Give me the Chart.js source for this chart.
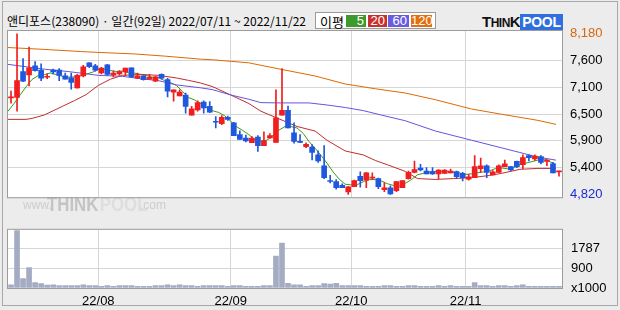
<!DOCTYPE html>
<html>
<head>
<meta charset="utf-8">
<script src="https://cdn.jsdelivr.net/npm/chart.js@4.4.0/dist/chart.umd.min.js"></script>
<style>
  html, body { margin: 0; padding: 0; background: #ececec; }
  #wrap { position: relative; width: 620px; height: 310px; overflow: hidden; background: #ececec; }
  #frame { position: absolute; left: 2px; top: 1px; width: 616px; height: 305px; border: 1px solid #a8a8a8; box-sizing: border-box; }
  #title { position: absolute; left: 7px; top: 12px; font: 12px "Noto Sans CJK KR", sans-serif; color: #000; white-space: nowrap; }
  #legend { position: absolute; left: 315px; top: 12px; width: 121px; height: 17px; box-sizing: border-box;
            border: 1px solid #9a9a9a; background: #fff; }
  #legend .lbl { position: absolute; left: 4px; top: -1px; font: 13px "Noto Sans CJK KR", sans-serif; color: #000; }
  #legend .box { position: absolute; top: 2px; height: 12px; color: #fff; text-align: right; padding-right: 2px;
                 box-sizing: border-box; font: 13px "Liberation Sans", sans-serif; line-height: 12px; }
  #logo { position: absolute; left: 482px; top: 13px; height: 14px; white-space: nowrap; font-family: "Liberation Sans", sans-serif; font-weight: bold; }
  #logo .think { color: #111; letter-spacing: -0.5px; }
  #logo .pool { background: #2f6fde; color: #fff; padding: 0 2px; font-size: 14px; letter-spacing: -0.3px; }
  canvas { position: absolute; left: 0; }
  #priceChart { top: 0; }
  #volChart { top: 213px; }
</style>
</head>
<body>
<div id="wrap">
  <div id="frame"></div>
  <div id="title">앤디포스(238090) · 일간(92일) 2022/07/11 ~ 2022/11/22</div>
  <div id="legend">
    <span class="lbl">이평</span>
    <span class="box" style="left:30px;width:20px;background:#3f9a2b">5</span>
    <span class="box" style="left:52px;width:19px;background:#c8302e">20</span>
    <span class="box" style="left:72px;width:21px;background:#6a5ce0">60</span>
    <span class="box" style="left:95px;width:21px;background:#e07010">120</span>
  </div>
  <div id="logo"><span class="think"><span style="font-size:15px">T</span><span style="font-size:12px">HIN</span><span style="font-size:15px">K</span></span><span class="pool">POOL</span></div>
  <canvas id="priceChart" width="620" height="213"></canvas>
  <canvas id="volChart" width="620" height="97"></canvas>
</div>
<script>
// trading days 2022/07/11 ~ 2022/11/22
var days = [
  '07/11','07/12','07/13','07/14','07/15','07/18','07/19','07/20','07/21','07/22',
  '07/25','07/26','07/27','07/28','07/29','08/01','08/02','08/03','08/04','08/05',
  '08/08','08/09','08/10','08/11','08/12','08/16','08/17','08/18','08/19','08/22',
  '08/23','08/24','08/25','08/26','08/29','08/30','08/31','09/01','09/02','09/05',
  '09/06','09/07','09/08','09/13','09/14','09/15','09/16','09/19','09/20','09/21',
  '09/22','09/23','09/26','09/27','09/28','09/29','09/30','10/04','10/05','10/06',
  '10/07','10/11','10/12','10/13','10/14','10/17','10/18','10/19','10/20','10/21',
  '10/24','10/25','10/26','10/27','10/28','10/31','11/01','11/02','11/03','11/04',
  '11/07','11/08','11/09','11/10','11/11','11/14','11/15','11/16','11/17','11/18',
  '11/21','11/22'
];

var openP = [
  6840, 6850, 7390, 7320, 7510, 7420, 7270, 7420, 7420, 7300,
  7260, 7050, 7300, 7570, 7510, 7360, 7530, 7320, 7340, 7380,
  7470, 7250, 7300, 7230, 7190, 7330, 7220, 6960, 6880, 6900,
  6480, 6590, 6750, 6660, 6350, 6300, 6430, 6320, 6070, 6000,
  5900, 6020, 5840, 6000, 5910, 6480, 6580, 6110, 5920, 5820,
  5810, 5650, 5420, 5100, 5090, 5010, 4870, 4980, 5200, 5120,
  5160, 5150, 4920, 4960, 4900, 4960, 5150, 5280, 5370, 5310,
  5300, 5250, 5260, 5270, 5300, 5260, 5140, 5170, 5360, 5420,
  5230, 5280, 5400, 5400, 5510, 5440, 5630, 5560, 5610, 5510,
  5460, 5290
];
var highP = [
  6980, 8180, 7660, 7900, 7600, 7550, 7340, 7440, 7450, 7360,
  7360, 7330, 7520, 7580, 7540, 7480, 7540, 7400, 7410, 7460,
  7470, 7360, 7300, 7330, 7290, 7340, 7250, 7010, 7010, 6940,
  6660, 6780, 6780, 6760, 6450, 6470, 6460, 6330, 6150, 6060,
  6030, 6050, 6130, 6090, 7010, 7450, 6670, 6320, 6070, 5900,
  5860, 5730, 5840, 5220, 5130, 5040, 4990, 5120, 5290, 5280,
  5270, 5160, 5060, 5000, 5090, 5110, 5310, 5520, 5450, 5380,
  5380, 5340, 5340, 5350, 5310, 5280, 5240, 5630, 5580, 5440,
  5320, 5440, 5540, 5410, 5520, 5650, 5650, 5650, 5630, 5550,
  5490, 5310
];
var lowP = [
  6730, 6560, 7180, 7090, 7400, 7200, 7240, 7340, 7200, 7230,
  7020, 7040, 7280, 7470, 7400, 7340, 7310, 7280, 7310, 7310,
  7260, 7240, 7210, 7230, 7180, 7230, 6860, 6770, 6880, 6520,
  6480, 6560, 6520, 6530, 6210, 6280, 6370, 6050, 5970, 5920,
  5900, 5720, 5840, 5990, 5910, 6480, 6210, 5890, 5900, 5800,
  5540, 5490, 5150, 5060, 4930, 4960, 4820, 4980, 4970, 4960,
  5130, 4940, 4880, 4820, 4880, 4960, 5140, 5270, 5310, 5250,
  5240, 5150, 5260, 5270, 5150, 5100, 5120, 5170, 5280, 5170,
  5230, 5280, 5400, 5310, 5380, 5360, 5520, 5530, 5460, 5420,
  5270, 5200
];
var closeP = [
  6860, 7200, 7190, 7470, 7410, 7250, 7290, 7380, 7310, 7230,
  7160, 7310, 7490, 7490, 7420, 7460, 7330, 7360, 7390, 7460,
  7280, 7300, 7220, 7270, 7280, 7250, 6980, 7010, 6960, 6660,
  6610, 6740, 6630, 6540, 6330, 6430, 6390, 6050, 5970, 5940,
  6000, 5840, 5940, 6050, 6420, 6580, 6210, 5930, 5910, 5870,
  5700, 5520, 5170, 5090, 4960, 4960, 4980, 5110, 5110, 5270,
  5180, 4980, 4960, 4830, 5090, 5110, 5280, 5340, 5330, 5250,
  5250, 5330, 5330, 5310, 5190, 5170, 5190, 5400, 5420, 5280,
  5290, 5420, 5460, 5330, 5400, 5590, 5590, 5620, 5490, 5540,
  5270, 5300
];
// volume, x1000 shares
var volume = [
  140, 2593, 430, 920, 245, 200, 130, 140, 105, 105,
  105, 105, 140, 105, 105, 70, 105, 80, 105, 105,
  105, 70, 70, 70, 105, 105, 140, 105, 140, 105,
  105, 70, 105, 105, 105, 105, 70, 105, 105, 70,
  70, 70, 105, 105, 1437, 2032, 210, 140, 140, 70,
  105, 105, 200, 175, 210, 105, 105, 105, 105, 70,
  70, 70, 105, 105, 70, 70, 105, 105, 70, 70,
  70, 105, 70, 105, 70, 70, 70, 245, 105, 105,
  70, 105, 105, 70, 105, 140, 70, 70, 70, 70,
  70, 70
];

// moving averages
var ma5 = [
  6560, 6720, 6900, 7070, 7226, 7304, 7322, 7360, 7328, 7292,
  7274, 7278, 7300, 7336, 7374, 7434, 7438, 7412, 7392, 7400,
  7364, 7358, 7330, 7306, 7270, 7264, 7200, 7158, 7096, 6972,
  6844, 6796, 6720, 6636, 6570, 6534, 6464, 6348, 6234, 6156,
  6070, 5960, 5938, 5954, 6050, 6166, 6240, 6238, 6210, 6100,
  5924, 5786, 5634, 5470, 5288, 5140, 5032, 5020, 5024, 5086,
  5130, 5130, 5100, 5044, 5008, 4994, 5054, 5130, 5230, 5262,
  5290, 5300, 5298, 5294, 5282, 5266, 5238, 5252, 5274, 5292,
  5316, 5362, 5374, 5356, 5380, 5440, 5474, 5506, 5538, 5566,
  5502, 5444
];
var ma20Idx = [0, 3, 4, 6, 9, 11, 13, 15, 17, 19, 22, 25, 28, 30, 32, 34, 37, 40, 42, 45,
               48, 51, 53, 56, 59, 61, 63, 66, 68, 71, 74, 77, 80, 82, 85, 88, 91];
var ma20Val = [6390, 6390, 6410, 6480, 6660, 6780, 6910, 7100, 7230, 7310, 7330, 7310, 7255, 7205, 7150, 7073, 6899, 6721, 6560, 6401,
               6241, 6145, 5950, 5729, 5646, 5530, 5441, 5300, 5152, 5133, 5152, 5171, 5217, 5262, 5345, 5364, 5364];
var ma60Idx = [0, 3, 6, 10, 15, 19, 22, 25, 28, 32, 34, 37, 40, 42, 45, 50, 53, 56, 59, 62, 66, 71, 77, 82, 85, 88, 91];
var ma60Val = [7540, 7490, 7440, 7390, 7310, 7290, 7240, 7200, 7110, 7050, 7010, 6900, 6810, 6740, 6734, 6734, 6690, 6638, 6573, 6480,
               6360, 6145, 5953, 5793, 5697, 5601, 5537];
var ma120Idx = [0, 5, 12, 15, 21, 26, 32, 34, 40, 45, 51, 56, 61, 66, 71, 77, 82, 88, 91];
var ma120Val = [7892, 7860, 7809, 7790, 7758, 7713, 7649, 7636, 7572, 7445, 7297, 7130, 7030, 6940, 6800, 6606, 6496, 6369, 6285];

var priceTicks = [8180, 7620, 7060, 6500, 5940, 5380, 4820];
var priceTickLabels = ['8,180', '7,600', '7,100', '6,500', '5,900', '5,400', '4,820'];
var volTicks = [1787, 893.5, 0];
var volTickLabels = ['1787', '900', 'x1000'];

var RED = '#f01e1e', BLUE = '#1f58de';
var GRID = '#d6d6d6';
var candleColors = closeP.map(function (c, i) { return c >= openP[i] ? RED : BLUE; });

var monthStarts = [];
days.forEach(function (d, i) {
  if (i > 0 && d.slice(0, 2) !== days[i - 1].slice(0, 2)) monthStarts.push(i);
});

var tickFont = { family: 'Liberation Sans', size: 13 };

// white plot area + grey frame
var panel = {
  id: 'panel',
  beforeDraw: function (c) {
    var a = c.chartArea, ctx = c.ctx;
    ctx.save();
    ctx.fillStyle = '#fff';
    ctx.fillRect(a.left, a.top, a.right - a.left, a.bottom - a.top);
    ctx.restore();
  },
  afterDraw: function (c) {
    var a = c.chartArea, ctx = c.ctx;
    ctx.save();
    ctx.strokeStyle = '#9c9c9c';
    ctx.lineWidth = 1;
    ctx.strokeRect(a.left - 0.5, a.top - 0.5, a.right - a.left + 1, a.bottom - a.top + 1);
    ctx.restore();
  }
};

var watermark = {
  id: 'watermark',
  beforeDatasetsDraw: function (c) {
    var ctx = c.ctx;
    ctx.save();
    ctx.fillStyle = '#cdcdcd';
    ctx.font = '12px "Liberation Sans"';
    ctx.fillText('www.', 23, 209);
    ctx.save();
    ctx.translate(47, 211);
    ctx.scale(0.8, 1);
    ctx.font = 'bold 21px "Liberation Sans"';
    ctx.fillStyle = '#c4c4c4';
    ctx.fillText('THINK', 0, 0);
    ctx.fillStyle = '#dedede';
    ctx.fillText('POOL', 66, 0);
    ctx.restore();
    ctx.fillStyle = '#cdcdcd';
    ctx.font = '12px "Liberation Sans"';
    ctx.fillText('.com', 140, 209);
    ctx.restore();
  }
};

function xAxis(showLabels) {
  return {
    type: 'linear', min: 0, max: days.length, offset: false,
    afterBuildTicks: function (s) { s.ticks = monthStarts.map(function (v) { return { value: v }; }); },
    afterFit: function (s) { s.height = showLabels ? 22 : 0; },
    grid: { color: GRID, drawTicks: false, offset: false },
    border: { display: false },
    ticks: {
      display: showLabels, autoSkip: false, maxRotation: 0, padding: 6, color: '#000', font: tickFont,
      callback: function (v) { return '22/' + days[v].slice(0, 2); }
    }
  };
}

function maLine(idx, val, color) {
  return {
    type: 'line', order: 2,
    data: idx.map(function (x, k) { return { x: x, y: val[k] }; }),
    borderColor: color, borderWidth: 1, pointRadius: 0, tension: 0
  };
}

new Chart(document.getElementById('priceChart'), {
  type: 'bar',
  data: {
    datasets: [
      maLine(ma120Idx, ma120Val, '#dd6a00'),
      maLine(ma60Idx, ma60Val, '#6654dc'),
      maLine(ma20Idx, ma20Val, '#c42c2c'),
      maLine(days.map(function (d, i) { return i; }), ma5, '#3c9a14'),
      {
        type: 'bar', order: 1, grouped: false, barThickness: 1,
        data: days.map(function (d, i) { return { x: i + 0.5, y: [lowP[i], highP[i]] }; }),
        backgroundColor: candleColors
      },
      {
        type: 'bar', order: 0, grouped: false, barThickness: 5, minBarLength: 1,
        data: days.map(function (d, i) { return { x: i + 0.5, y: [openP[i], closeP[i]] }; }),
        backgroundColor: candleColors
      }
    ]
  },
  options: {
    responsive: false, animation: false, events: [],
    layout: { padding: { top: 31, left: 8, right: 0, bottom: 1 } },
    plugins: { legend: { display: false }, tooltip: { enabled: false } },
    scales: {
      x: xAxis(false),
      y: {
        position: 'right', min: 4762, max: 8238,
        afterBuildTicks: function (s) { s.ticks = priceTicks.map(function (v) { return { value: v }; }); },
        afterFit: function (s) { s.width = 58; },
        grid: {
          drawTicks: false,
          color: function (c) { return (c.index === 0 || c.index === priceTicks.length - 1) ? 'rgba(0,0,0,0)' : GRID; }
        },
        border: { display: false },
        ticks: {
          padding: 8, font: tickFont,
          color: function (c) { return c.index === 0 ? '#d9660a' : (c.index === priceTicks.length - 1 ? '#1a2bd0' : '#000'); },
          callback: function (v, i) { return priceTickLabels[i]; }
        }
      }
    }
  },
  plugins: [panel, watermark]
});

new Chart(document.getElementById('volChart'), {
  type: 'bar',
  data: {
    datasets: [{
      grouped: false, barThickness: 5,
      data: days.map(function (d, i) { return { x: i + 0.5, y: volume[i] }; }),
      backgroundColor: '#a3acc3'
    }]
  },
  options: {
    responsive: false, animation: false, events: [],
    layout: { padding: { top: 0, left: 8, right: 0, bottom: 0 } },
    plugins: { legend: { display: false }, tooltip: { enabled: false } },
    scales: {
      x: xAxis(true),
      y: {
        position: 'right', min: 0, max: 2630,
        afterBuildTicks: function (s) { s.ticks = volTicks.map(function (v) { return { value: v }; }); },
        afterFit: function (s) { s.width = 58; },
        grid: {
          drawTicks: false,
          color: function (c) { return c.index === volTicks.length - 1 ? 'rgba(0,0,0,0)' : GRID; }
        },
        border: { display: false },
        ticks: {
          padding: 9, font: tickFont, color: '#000',
          callback: function (v, i) { return volTickLabels[i]; }
        }
      }
    }
  },
  plugins: [panel]
});
</script>
</body>
</html>
